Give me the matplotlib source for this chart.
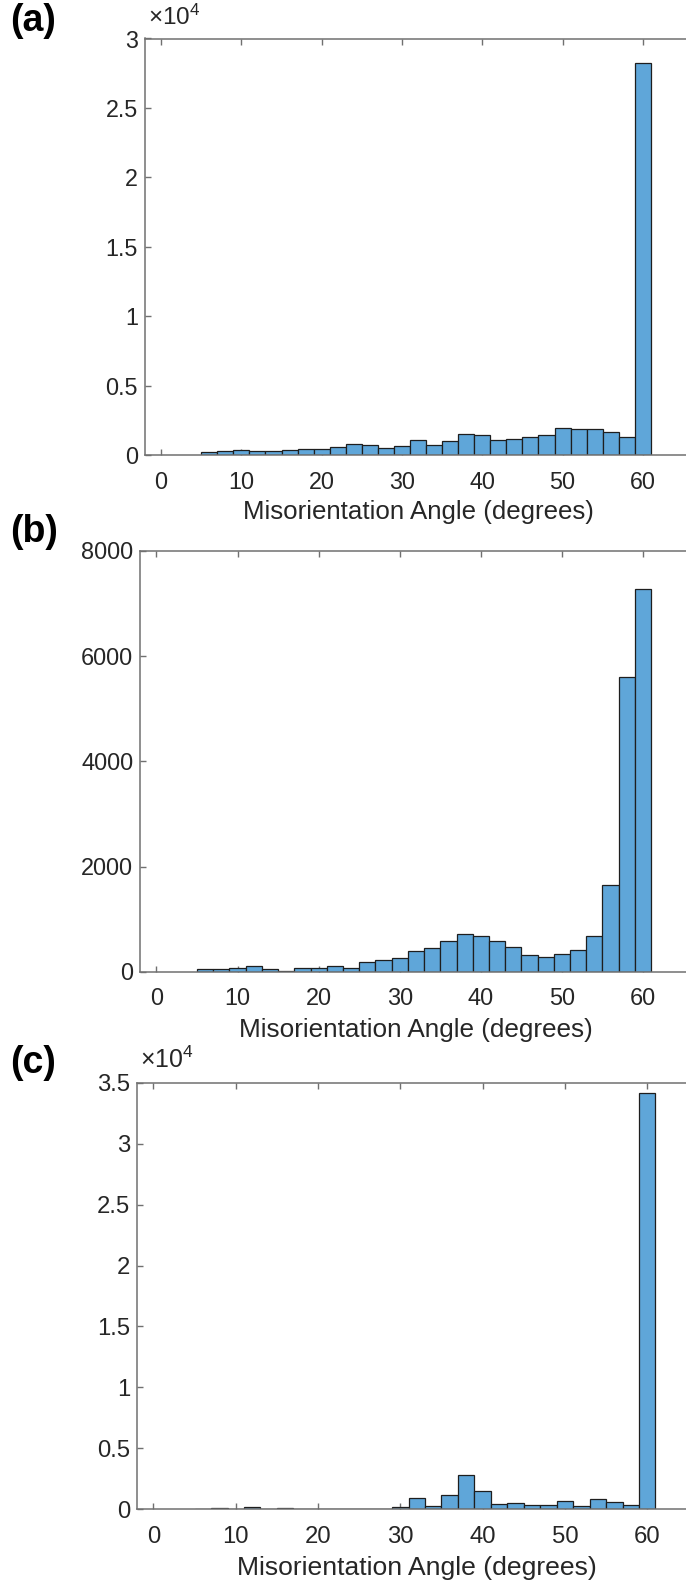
import numpy as np
import matplotlib
matplotlib.use("Agg")
import matplotlib.pyplot as plt
from matplotlib.ticker import FuncFormatter, FixedLocator

plt.rcParams['font.family'] = ['Liberation Sans', 'DejaVu Sans']
plt.rcParams['mathtext.fontset'] = 'custom'
plt.rcParams['mathtext.rm'] = 'Liberation Sans'

# ---- data: bin edges and counts ----
bin_edges = np.arange(5, 62, 2)  # 5,7,...,61 (28 bins of width 2)

counts_a = [219, 317, 390, 292, 292, 365, 438, 438, 609, 828, 706, 536, 682, 1071,
            755, 974, 1485, 1412, 1047, 1120, 1266, 1461, 1948, 1875, 1875, 1631,
            1266, 28270]
counts_b = [58, 58, 83, 109, 64, 19, 77, 77, 109, 77, 186, 225, 263, 398,
            462, 591, 713, 693, 591, 482, 321, 282, 340, 417, 693, 1656,
            5600, 7270]
counts_c = [0, 80, 0, 160, 0, 80, 0, 50, 50, 50, 50, 50, 170, 945,
            250, 1170, 2810, 1470, 420, 530, 330, 330, 670, 250, 834, 610,
            360, 34150]

panel_labels = ['(a)', '(b)', '(c)']
xlabel_text = 'Misorientation Angle (degrees)'
xticks = [0, 10, 20, 30, 40, 50, 60]
yticks_a = [0, 5000, 10000, 15000, 20000, 25000, 30000]
yticks_b = [0, 2000, 4000, 6000, 8000]
yticks_c = [0, 5000, 10000, 15000, 20000, 25000, 30000, 35000]

W, H = 686, 1587
fig = plt.figure(figsize=(W / 100, H / 100), dpi=100)

# pixel geometry: (left, right, top, bottom)
rects = [(145, 691, 38.5, 455), (140.2, 691.7, 551, 972), (137, 696.6, 1082.7, 1509.3)]
label_y = [21, 532, 1063]

bar_color = '#5FA6D9'
spine_color = '#707070'
text_color = '#262626'

datasets = [(counts_a, yticks_a, True), (counts_b, yticks_b, False), (counts_c, yticks_c, True)]

centers = (bin_edges[:-1] + bin_edges[1:]) / 2
for i, ((L, R, T, B), (counts, yt, sci)) in enumerate(zip(rects, datasets)):
    k = ((R - L) / 68.0) / 8.03   # relative scale of this panel
    ax = fig.add_axes([L / W, 1 - B / H, (R - L) / W, (B - T) / H])
    ax.bar(centers, counts, width=2, color=bar_color, edgecolor='#1e1e1e',
           linewidth=0.9, align='center', zorder=2)
    ax.set_xlim(-2, 66)
    ax.set_ylim(yt[0], yt[-1])
    ax.xaxis.set_major_locator(FixedLocator(xticks))
    ax.yaxis.set_major_locator(FixedLocator(yt))
    if sci:
        ax.yaxis.set_major_formatter(FuncFormatter(lambda v, p: f'{v / 1e4:g}'))
        ax.text(0.005, 1 + 14 * k / (B - T), r'$\mathregular{\times10^{4}}$',
                transform=ax.transAxes, ha='left', va='baseline',
                fontsize=17.5 * k, color=text_color)
    else:
        ax.yaxis.set_major_formatter(FuncFormatter(lambda v, p: f'{v:g}'))
    ax.tick_params(axis='both', direction='in', length=4 * k, width=1.0,
                   color=spine_color, labelcolor=text_color, labelsize=16.8 * k,
                   top=True, right=False)
    ax.tick_params(axis='x', pad=11.5 * k)
    ax.tick_params(axis='y', pad=5 * k)
    for s in ax.spines.values():
        s.set_color(spine_color)
        s.set_linewidth(1.1)
    ax.set_xlabel(xlabel_text, fontsize=18.6 * k, color=text_color, va='center')
    ax.xaxis.set_label_coords(0.5, -57 * k / (B - T))
    fig.text(10 / W, 1 - label_y[i] / H, panel_labels[i], fontsize=27,
             fontweight='bold', ha='left', va='center', color='black')

fig.savefig('out.png', dpi=100)
